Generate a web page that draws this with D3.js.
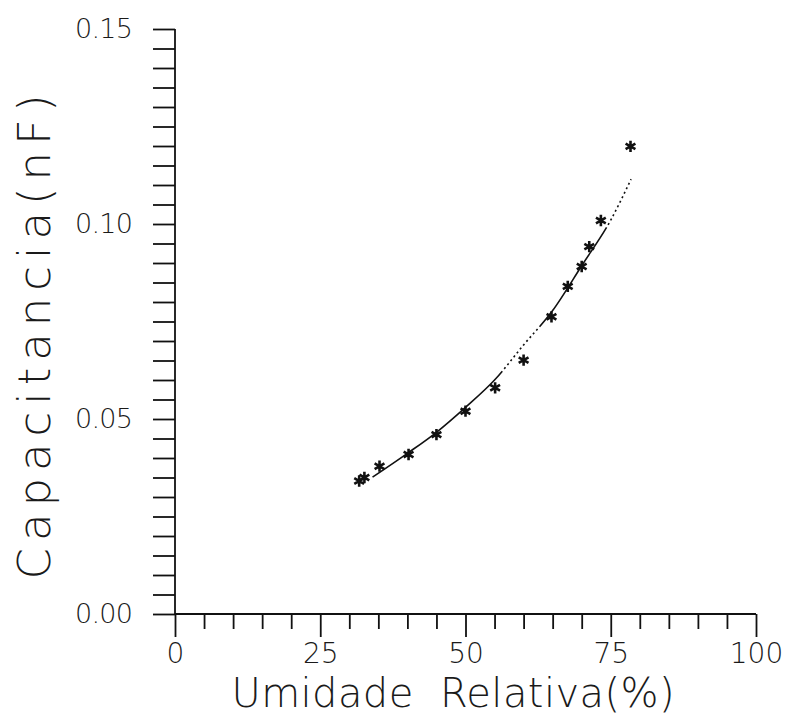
<!DOCTYPE html>
<html>
<head>
<meta charset="utf-8">
<script src="https://cdn.jsdelivr.net/npm/d3@7"></script>
<style>
  body { margin: 0; background: #fff; }
  text { font-family: "DejaVu Sans", "Liberation Sans", sans-serif; font-weight: 200; fill: #1a1a1a; }
</style>
</head>
<body>
<script>
// measured points: relative humidity (%) vs capacitance (nF)
var umidade     = [31.7, 32.6, 35.2, 40.2, 45.0, 50.0, 55.1, 60.0, 64.8, 67.6, 70.0, 71.3, 73.3, 78.4];
var capacitancia = [0.0341, 0.0350, 0.0379, 0.0409, 0.0460, 0.0520, 0.0580, 0.0651, 0.0762, 0.0840, 0.0891, 0.0942, 0.1009, 0.1199];

// fitted curve
var ajusteX = [34, 40, 45, 50, 55, 60, 65, 70, 75, 78.5];
var ajusteY = [0.0351, 0.0412, 0.0466, 0.0530, 0.0600, 0.0690, 0.0778, 0.0893, 0.1010, 0.1115];

// tick labels
var xTicks = [0, 25, 50, 75, 100];
var yTicks = [0, 0.05, 0.10, 0.15];

// 1. margin
var margin = {top: 29, right: 30, bottom: 103, left: 175},
	width = 785 - margin.left - margin.right,
	height = 717 - margin.top - margin.bottom;

// 2. scales
var xScale = d3.scaleLinear().domain([0, 100]).range([0, 581]);
var yScale = d3.scaleLinear().domain([0, 0.15]).range([height, 0]);

// 3. svg
var svg = d3.select("body").append("svg")
	.attr("width", 785)
	.attr("height", 717);
var g = svg.append("g")
	.attr("transform", "translate(" + margin.left + "," + margin.top + ")");

// 4. axes
var yMinor = d3.range(0, 0.1501, 0.005);
var xMinor = d3.range(0, 100.1, 5).filter(function(d){ return xTicks.indexOf(d) < 0; });

var yAxis = d3.axisLeft(yScale)
	.tickValues(yMinor)
	.tickSize(22)
	.tickPadding(20)
	.tickFormat(function(d){
		var hit = yTicks.find(function(t){ return Math.abs(t - d) < 1e-6; });
		return hit === undefined ? "" : d3.format(".2f")(d);
	});

var gy = g.append("g").call(yAxis);
gy.selectAll("text").style("font-size", "27px").attr("textLength", 58);

var gxMinor = g.append("g")
	.attr("transform", "translate(0," + height + ")")
	.call(d3.axisBottom(xScale).tickValues(xMinor).tickSize(15).tickFormat(""));
gxMinor.select(".domain").remove();

var gx = g.append("g")
	.attr("transform", "translate(0," + height + ")")
	.call(d3.axisBottom(xScale).tickValues(xTicks).tickSize(23).tickPadding(6));
gx.selectAll("text").style("font-size", "28px");

svg.selectAll(".domain, .tick line")
	.attr("stroke", "#111")
	.attr("stroke-width", 1.8);
// no end caps sticking out on the axes
gy.select(".domain").attr("d", "M0," + yScale(0.15) + "V" + yScale(0));
gx.select(".domain").attr("d", "M" + xScale(0) + ",0H" + xScale(100));

// 5. fitted line: solid and dotted stretches like the plotter drew it
var fit = ajusteX.map(function(x, i){ return {x: x, y: ajusteY[i]}; });
var line = d3.line()
	.x(function(d){ return xScale(d.x); })
	.y(function(d){ return yScale(d.y); })
	.curve(d3.curveMonotoneX);

var path = g.append("path")
	.datum(fit)
	.attr("d", line)
	.attr("fill", "none")
	.attr("stroke", "#111")
	.attr("stroke-width", 1.6);
var L = path.node().getTotalLength();
var dots = function(n){ return d3.range(n).map(function(){ return "2 3"; }).join(" "); };
// solid up to ~x=56, dotted to ~63, solid to ~73, dotted to end
path.attr("stroke-dasharray", [L*0.42, 3, dots(11), L*0.3, 3, dots(30)].join(" "));

// 6. points
var pts = umidade.map(function(x, i){ return {x: x, y: capacitancia[i]}; });
g.selectAll(".pt")
	.data(pts)
	.enter()
	.append("path")
	.attr("class", "pt")
	.attr("transform", function(d){ return "translate(" + xScale(d.x) + "," + yScale(d.y) + ")"; })
	.attr("d", d3.symbol(d3.symbolAsterisk, 90))
	.attr("fill", "none")
	.attr("stroke", "#111")
	.attr("stroke-width", 2.6);

// 7. axis titles
svg.append("text")
	.attr("x", 453)
	.attr("y", 707)
	.attr("text-anchor", "middle")
	.attr("textLength", 443)
	.attr("lengthAdjust", "spacing")
	.style("font-size", "40px")
	.style("white-space", "pre")
	.text("Umidade  Relativa(%)");

svg.append("text")
	.attr("transform", "translate(50,337) rotate(-90)")
	.attr("text-anchor", "middle")
	.attr("textLength", 485)
	.attr("lengthAdjust", "spacing")
	.style("font-size", "45px")
	.text("Capacitancia(nF)");
</script>
</body>
</html>
